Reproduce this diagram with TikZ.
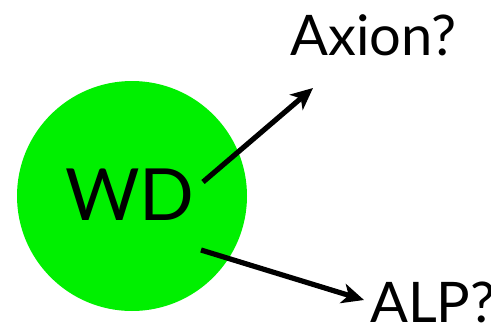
\documentclass[tikz,border=0pt]{standalone}
\usepackage{fontspec}
\setmainfont{Lato}
\usetikzlibrary{arrows.meta}
\definecolor{wdgreen}{RGB}{0,240,0}
\tikzset{
  label text/.style={font=\fontsize{56}{60}\selectfont, inner sep=0pt, anchor=base west},
  emission/.style={line width=5.2pt, -{Stealth[length=22pt,width=20pt,inset=6pt]}}
}
\begin{document}
\begin{tikzpicture}[x=1pt,y=-1pt]
  \useasboundingbox (0,0) rectangle (491,335);
  % white dwarf
  \node[circle, fill=wdgreen, minimum size=230pt, inner sep=0pt] (wd) at (132,196) {};
  \node[font=\fontsize{72}{76}\selectfont, inner sep=0pt] (wdtext) at (130,195) {WD};
  % candidate particles
  \node[label text] (axion) at (290,55) {Axion?};
  \node[label text] (alp) at (370,322) {ALP?};
  % arrow end points
  \coordinate (s1) at (203,182);
  \coordinate (e1) at (313,88);
  \coordinate (s2) at (201,250);
  \coordinate (e2) at (364,300);
  \draw[emission] (s1) -- (e1);
  \draw[emission] (s2) -- (e2);
\end{tikzpicture}
\end{document}
